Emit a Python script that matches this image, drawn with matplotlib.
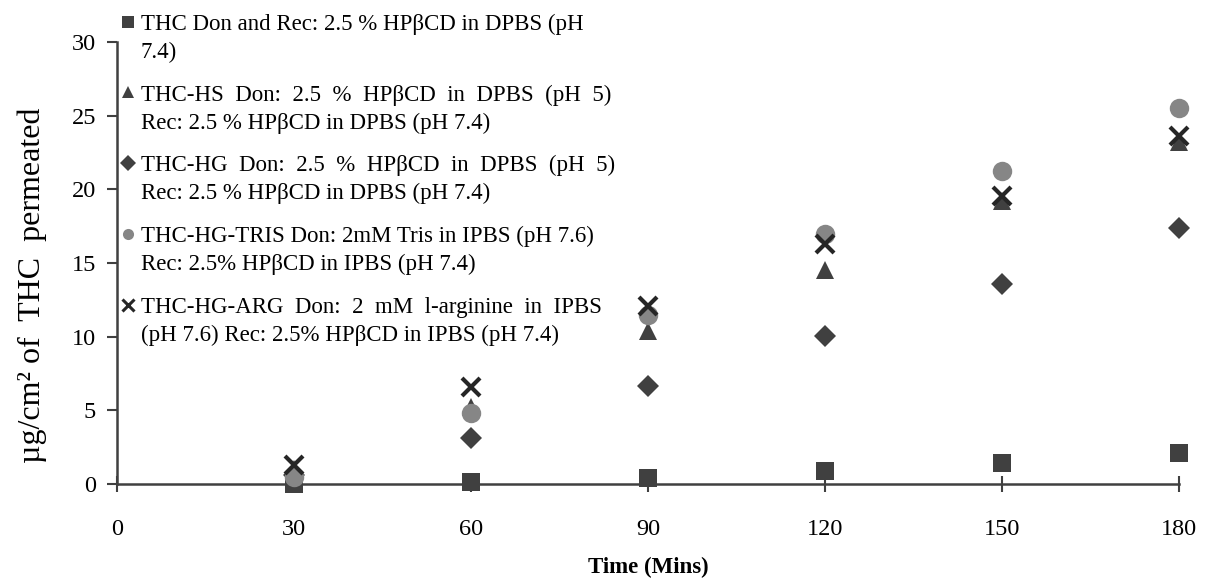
import matplotlib
matplotlib.use("Agg")
import matplotlib.pyplot as plt
from matplotlib.legend_handler import HandlerLine2D

time_min = [30, 60, 90, 120, 150, 180]
thc = [0.0, 0.15, 0.4, 0.9, 1.4, 2.1]
thc_hs = [1.0, 5.2, 10.4, 14.5, 19.2, 23.2]
thc_hg = [0.6, 3.1, 6.65, 10.05, 13.6, 17.4]
thc_hg_tris = [0.5, 4.8, 11.5, 17.0, 21.25, 25.5]
thc_hg_arg = [1.3, 6.6, 12.1, 16.3, 19.55, 23.6]

labels = [
    "THC Don and Rec: 2.5 % HPβCD in DPBS (pH\n7.4)",
    "THC-HS  Don:  2.5  %  HPβCD  in  DPBS  (pH  5)\nRec: 2.5 % HPβCD in DPBS (pH 7.4)",
    "THC-HG  Don:  2.5  %  HPβCD  in  DPBS  (pH  5)\nRec: 2.5 % HPβCD in DPBS (pH 7.4)",
    "THC-HG-TRIS Don: 2mM Tris in IPBS (pH 7.6)\nRec: 2.5% HPβCD in IPBS (pH 7.4)",
    "THC-HG-ARG  Don:  2  mM  l-arginine  in  IPBS\n(pH 7.6) Rec: 2.5% HPβCD in IPBS (pH 7.4)",
]
x_ticks = [0, 30, 60, 90, 120, 150, 180]
y_ticks = [0, 5, 10, 15, 20, 25, 30]

plt.rcParams['font.family'] = ['Liberation Serif', 'DejaVu Serif']

fig = plt.figure(figsize=(12.14, 5.83), dpi=100)
ax = fig.add_axes([0.0964, 0.1698, 0.9712 - 0.0964, 0.928 - 0.1698])

series = [thc, thc_hs, thc_hg, thc_hg_tris, thc_hg_arg]
styles = [
    dict(marker='s', color='#404040', ms=13),
    dict(marker='^', color='#404040', ms=13),
    dict(marker='D', color='#404040', ms=11),
    dict(marker='o', color='#868686', ms=14),
    dict(marker='x', color='#262626', ms=13, mew=3),
]
handles = []
for s, st, lab in zip(series, styles, labels):
    kw = dict(st)
    mew = kw.pop('mew', 0)
    h, = ax.plot(time_min, s, linestyle='none', marker=kw['marker'],
                 color=kw['color'], markersize=kw['ms'], markeredgewidth=mew,
                 clip_on=False, label=lab, zorder=3)
    handles.append(h)


class TopHandler(HandlerLine2D):
    def create_artists(self, legend, orig_handle, xdescent, ydescent,
                       width, height, fontsize, trans):
        arts = super().create_artists(legend, orig_handle, xdescent, ydescent,
                                      width, height, fontsize, trans)
        for a in arts:
            yd = a.get_ydata()
            a.set_ydata([y + 0.72 * fontsize for y in yd])
            if a.get_marker() not in ('None', None, ''):
                a.set_markersize(8)
                if a.get_marker() == 'x':
                    a.set_markeredgewidth(2.2)
        return arts


leg = fig.legend(handles=handles, labels=labels, loc='upper left',
                 bbox_to_anchor=(110 / 1214, 1 - 2 / 583), frameon=False,
                 fontsize=16.5, handlelength=0.6, handletextpad=0.25,
                 labelspacing=0.95, borderpad=0.0,
                 handler_map={h: TopHandler(numpoints=1) for h in handles})
for t in leg.get_texts():
    t.set_linespacing(1.42)

ax.set_xlim(0, 180)
ax.set_ylim(0, 30)
ax.set_xticks(x_ticks)
ax.set_yticks(y_ticks)
for sp in ['top', 'right']:
    ax.spines[sp].set_visible(False)
for sp in ['left', 'bottom']:
    ax.spines[sp].set_color('#404040')
    ax.spines[sp].set_linewidth(1.8)
ax.tick_params(axis='y', direction='out', length=7, width=1.5, color='#404040',
               labelsize=17.5, pad=8)
ax.tick_params(axis='x', direction='inout', length=12, width=1.5, color='#404040',
               labelsize=17.5, pad=19)
ax.set_xlabel('Time (Mins)', fontsize=16.5, fontweight='bold', labelpad=12)
ax.set_ylabel('µg/cm² of  THC  permeated', fontsize=23, labelpad=12)
ax.yaxis.set_label_coords(-0.066, 0.45)

fig.savefig('out.png', dpi=100)
